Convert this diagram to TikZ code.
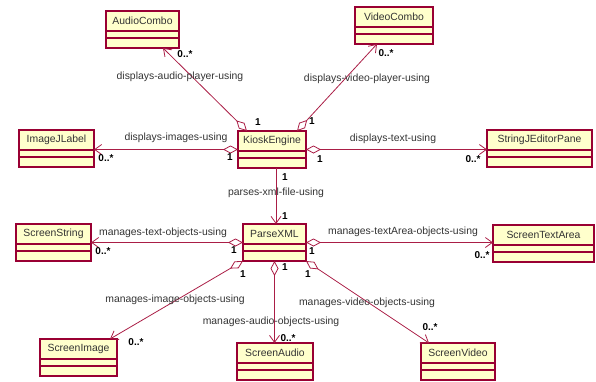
\documentclass[tikz,border=0pt]{standalone}
\usepackage{fontspec}
\setmainfont{Liberation Sans}
\usetikzlibrary{arrows.meta,calc,positioning}

\definecolor{classfill}{RGB}{255,255,204}
\definecolor{classedge}{RGB}{153,0,51}
\definecolor{assocline}{RGB}{170,30,70}
\definecolor{labeltext}{RGB}{51,51,51}

\tikzset{
  classbox/.style={draw=classedge, fill=classfill, line width=1.2pt, inner sep=0pt,
    outer sep=0pt, anchor=north west, minimum height=37pt},
  classname/.style={text=labeltext, font=\fontsize{10.4}{12}\selectfont, inner sep=0pt},
  assoc/.style={draw=assocline, line width=0.8pt,
    {Diamond[open,length=15pt,width=8pt]}-{Straight Barb[length=7pt,width=10pt]}},
  navig/.style={draw=assocline, line width=0.8pt, -{Straight Barb[length=7pt,width=10pt]}},
  rolename/.style={text=labeltext, font=\fontsize{10.4}{12}\selectfont, inner sep=0pt},
  mult/.style={font=\bfseries\fontsize{10}{12}\selectfont, inner sep=0pt},
}

\begin{document}
\begin{tikzpicture}[x=1pt,y=-1pt]
    \useasboundingbox (0,0) rectangle (596,381);
    % classes
    \foreach \nm/\x/\y/\w/\txt in {audio/106/11/73/AudioCombo, video/355/7/78/VideoCombo,
        imagelbl/19/130/75/ImageJLabel, kiosk/238/131/68/KioskEngine,
        stringpane/487/130/105/StringJEditorPane, parse/243/224/63/ParseXML,
        sstring/16/224/75/ScreenString, stextarea/493/225/101/ScreenTextArea,
        simage/40/339/77/ScreenImage, saudio/237/343/76/ScreenAudio,
        svideo/421/343/74/ScreenVideo} {
        \node[classbox, minimum width=\w pt] (\nm) at (\x,\y) {};
        \node[classname] (\nm-title) at ($(\nm.north)+(0pt,-10pt)$) {\txt};
        \draw[classedge, line width=1.2pt]
            ($(\nm.north west)+(0pt,-20pt)$) -- ($(\nm.north east)+(0pt,-20pt)$)
            ($(\nm.north west)+(0pt,-27pt)$) -- ($(\nm.north east)+(0pt,-27pt)$);
    }

    % associations
    \draw[assoc] ($(kiosk.north west)+(9pt,0pt)$) -- ($(audio.south west)+(57pt,0pt)$);
    \draw[assoc] ($(kiosk.north east)+(-9pt,0pt)$) -- ($(video.south west)+(22pt,0pt)$);
    \draw[assoc] (kiosk.west) -- (kiosk.west -| imagelbl.east);
    \draw[assoc] (kiosk.east) -- (kiosk.east -| stringpane.west);
    \draw[navig] ($(kiosk.south)+(4pt,0pt)$) coordinate (kp) -- (kp |- parse.north);
    \draw[assoc] (parse.west) -- (parse.west -| sstring.east);
    \draw[assoc] (parse.east) -- (parse.east -| stextarea.west);
    \draw[assoc] (parse.south west) -- ($(simage.north west)+(70pt,0pt)$);
    \draw[assoc] (parse.south) -- (parse.south |- saudio.north);
    \draw[assoc] (parse.south east) -- ($(svideo.north west)+(8pt,0pt)$);

    % association names
    \node[rolename] (r-audio) at (180,77) {displays-audio-player-using};
    \node[rolename] (r-video) at (367,79) {displays-video-player-using};
    \node[rolename] (r-image) at (176,138) {displays-images-using};
    \node[rolename] (r-text) at (393,139) {displays-text-using};
    \node[rolename] (r-xml) at (276,193) {parses-xml-file-using};
    \node[rolename] (r-stext) at (163,233) {manages-text-objects-using};
    \node[rolename] (r-sarea) at (403,232) {manages-textArea-objects-using};
    \node[rolename] (r-simage) at (175,300) {manages-image-objects-using};
    \node[rolename] (r-saudio) at (271,322) {manages-audio-objects-using};
    \node[rolename] (r-svideo) at (367,303) {manages-video-objects-using};

    % multiplicities
    \foreach \x/\y/\val in {185/54/0..*, 258/122/1, 386/53/0..*, 312/121/1,
        106/158/0..*, 230/157/1, 320/159/1, 473/159/0..*, 285/177/1, 285/216/1,
        103/251/0..*, 234/250/1, 312/251/1, 482/255/0..*, 243/274/1, 285/267/1,
        308/274/1, 136/342/0..*, 288/338/0..*, 430/327/0..*} {
        \node[mult] (m-\x-\y) at (\x,\y) {\val};
    }
\end{tikzpicture}
\end{document}
